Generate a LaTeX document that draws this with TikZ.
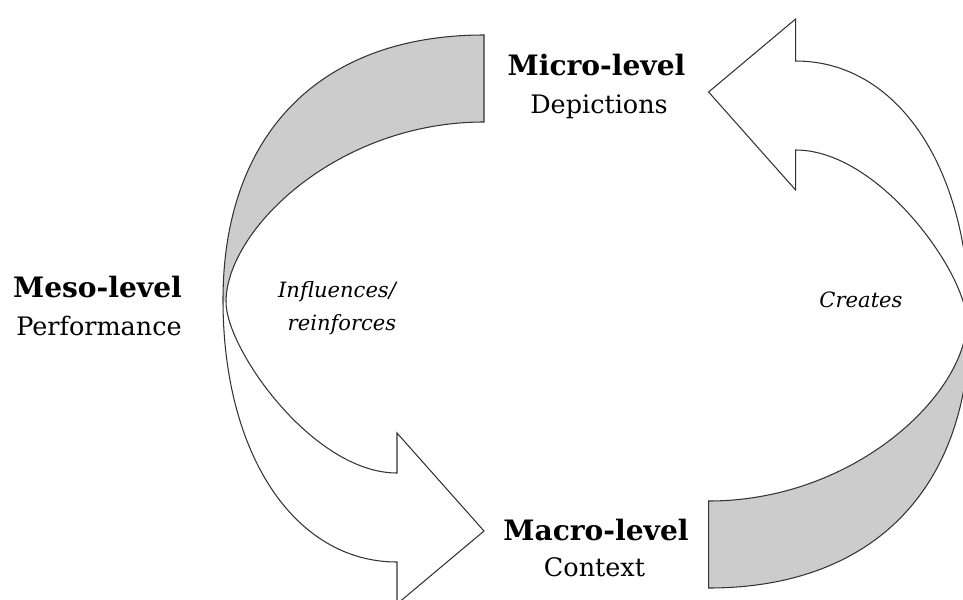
\documentclass[tikz,border=0pt]{standalone}
\usepackage{fontspec}
\setmainfont{DejaVu Serif}
\definecolor{ribbongrey}{gray}{0.8}
\definecolor{ribbonline}{gray}{0.2}
\begin{document}
\begin{tikzpicture}[x=0.02cm,y=-0.02cm,
  ribbonedge/.style={draw=ribbonline,line width=0.6pt,line join=miter},
  boldlabel/.style={anchor=base,inner sep=0pt,font=\fontsize{16}{19}\selectfont\bfseries},
  plainlabel/.style={anchor=base,inner sep=0pt,font=\fontsize{14.5}{17}\selectfont},
  italiclabel/.style={anchor=base,inner sep=0pt,font=\fontsize{12}{14}\selectfont\itshape},
  ribbon arrow/.pic={
    \fill[white] (484,35) .. controls (319,35) and (223,135) .. (223,300)
        .. controls (223,455) and (295,562) .. (397,562) -- (397,604) -- (484,531) -- (397,433) -- (397,473)
        .. controls (313,473) and (226,349) .. (226,302)
        .. controls (226,230) and (337,122) .. (484,122) -- cycle;
    \fill[ribbongrey] (484,35) .. controls (319,35) and (223,135) .. (223,300) -- (226,302)
        .. controls (226,230) and (337,122) .. (484,122) -- cycle;
    \draw[ribbonedge] (484,35) .. controls (319,35) and (223,135) .. (223,300)
        .. controls (223,455) and (295,562) .. (397,562) -- (397,604) -- (484,531) -- (397,433) -- (397,473)
        .. controls (313,473) and (226,349) .. (226,302)
        .. controls (226,230) and (337,122) .. (484,122) -- cycle;
  }]
\useasboundingbox (0,0) rectangle (963,599);
\clip (0,0) rectangle (963,599);
\pic (leftarrow) at (0,0) {ribbon arrow};
\pic[rotate=180] (rightarrow) at (1192.6,623) {ribbon arrow};
\node[boldlabel] (micro) at (596.5,75) {Micro-level};
\node[plainlabel] (depictions) at (599,113) {Depictions};
\node[boldlabel] (meso) at (97.5,297) {Meso-level};
\node[plainlabel] (performance) at (99,335) {Performance};
\node[boldlabel] (macro) at (596,540) {Macro-level};
\node[plainlabel] (context) at (594.5,576) {Context};
\node[italiclabel] (influences) at (337,297) {Influences/};
\node[italiclabel] (reinforces) at (342,330) {reinforces};
\node[italiclabel] (creates) at (861,307) {Creates};
\end{tikzpicture}
\end{document}
